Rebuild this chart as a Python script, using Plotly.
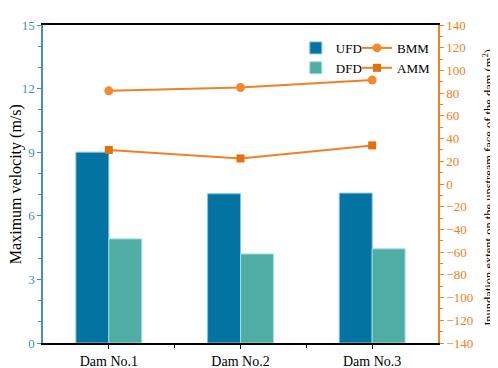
import plotly.graph_objects as go

categories = ["Dam No.1", "Dam No.2", "Dam No.3"]
ufd = [9.0, 7.04, 7.07]
dfd = [4.91, 4.2, 4.44]
bmm = [82, 85, 91.5]
amm = [30, 22.5, 34]
left_ticks = [0, 3, 6, 9, 12, 15]
right_ticks = list(range(-140, 141, 20))

xpos = list(range(len(categories)))
font = "Liberation Serif"
blue = "#4a8cc4"
orange = "#f28022"

fig = go.Figure()
fig.add_trace(go.Bar(x=xpos, y=ufd, name="UFD", marker=dict(color="#0374a2", line=dict(color="#7fc3df", width=1)),
                     legend="legend", yaxis="y"))
fig.add_trace(go.Bar(x=xpos, y=dfd, name="DFD", marker=dict(color="#4fada6", line=dict(color="#9fe0da", width=1)),
                     legend="legend", yaxis="y"))
fig.add_trace(go.Scatter(x=xpos, y=bmm, name="BMM", mode="lines+markers", yaxis="y2",
                         line=dict(color=orange, width=2), marker=dict(symbol="circle", size=9, color="#f28a2e"),
                         legend="legend2"))
fig.add_trace(go.Scatter(x=xpos, y=amm, name="AMM", mode="lines+markers", yaxis="y2",
                         line=dict(color=orange, width=2), marker=dict(symbol="square", size=8, color="#e2700c"),
                         legend="legend2"))

# page body has an 8px margin, so the figure is sized to fill the rest of the window
fig.update_layout(
    width=490, height=360,
    margin=dict(l=35, r=60, t=17, b=25, autoexpand=False),
    plot_bgcolor="white", paper_bgcolor="white",
    font=dict(family=font, size=13, color="black"),
    barmode="group", bargap=0.5, bargroupgap=0,
    xaxis=dict(range=[-0.5, 2.5], tickvals=xpos, ticktext=categories, automargin=False,
               showline=True, linecolor="black", linewidth=1.5, mirror=True,
               ticks="outside", ticklen=4, tickcolor="black", showgrid=False, zeroline=False,
               tickfont=dict(family=font, size=14, color="black"),
               minor=dict(tickvals=[0.5, 1.5], ticks="outside", ticklen=3, tickcolor="black")),
    yaxis=dict(range=[0, 15], tickvals=left_ticks, showline=True, linecolor=blue, linewidth=1.5,
               automargin=False,
               ticks="outside", ticklen=4, tickcolor=blue, showgrid=False, zeroline=False,
               tickfont=dict(family=font, size=13, color=blue),
               minor=dict(dtick=1, ticks="outside", ticklen=3, tickcolor=blue)),
    yaxis2=dict(range=[-140, 140], tickvals=right_ticks, overlaying="y", side="right",
                showline=True, linecolor=orange, linewidth=1.5, automargin=False,
                ticks="outside", ticklen=4, tickcolor=orange, showgrid=False, zeroline=False,
                tickfont=dict(family=font, size=13, color=orange),
                minor=dict(dtick=10, ticks="outside", ticklen=3, tickcolor=orange)),
    legend=dict(x=0.64, y=0.975, xanchor="left", yanchor="top", bgcolor="rgba(0,0,0,0)",
                font=dict(family=font, size=13), tracegroupgap=0, itemwidth=30),
    legend2=dict(x=0.795, y=0.975, xanchor="left", yanchor="top", bgcolor="rgba(0,0,0,0)",
                 font=dict(family=font, size=13), tracegroupgap=0, itemwidth=30),
    annotations=[
        dict(text="Maximum velocity (m/s)", xref="paper", yref="paper", x=-0.068, y=0.5,
             xanchor="center", yanchor="middle", textangle=-90, showarrow=False,
             font=dict(family=font, size=16, color="black")),
        dict(text="Inundation extent on the upstream face of the dam (m<sup>2</sup>)",
             xref="paper", yref="paper", x=1.1266, y=0.488, xanchor="center", yanchor="middle",
             textangle=-90, showarrow=False, font=dict(family=font, size=12.5, color="black"))],
)

fig.write_html("out.html")
